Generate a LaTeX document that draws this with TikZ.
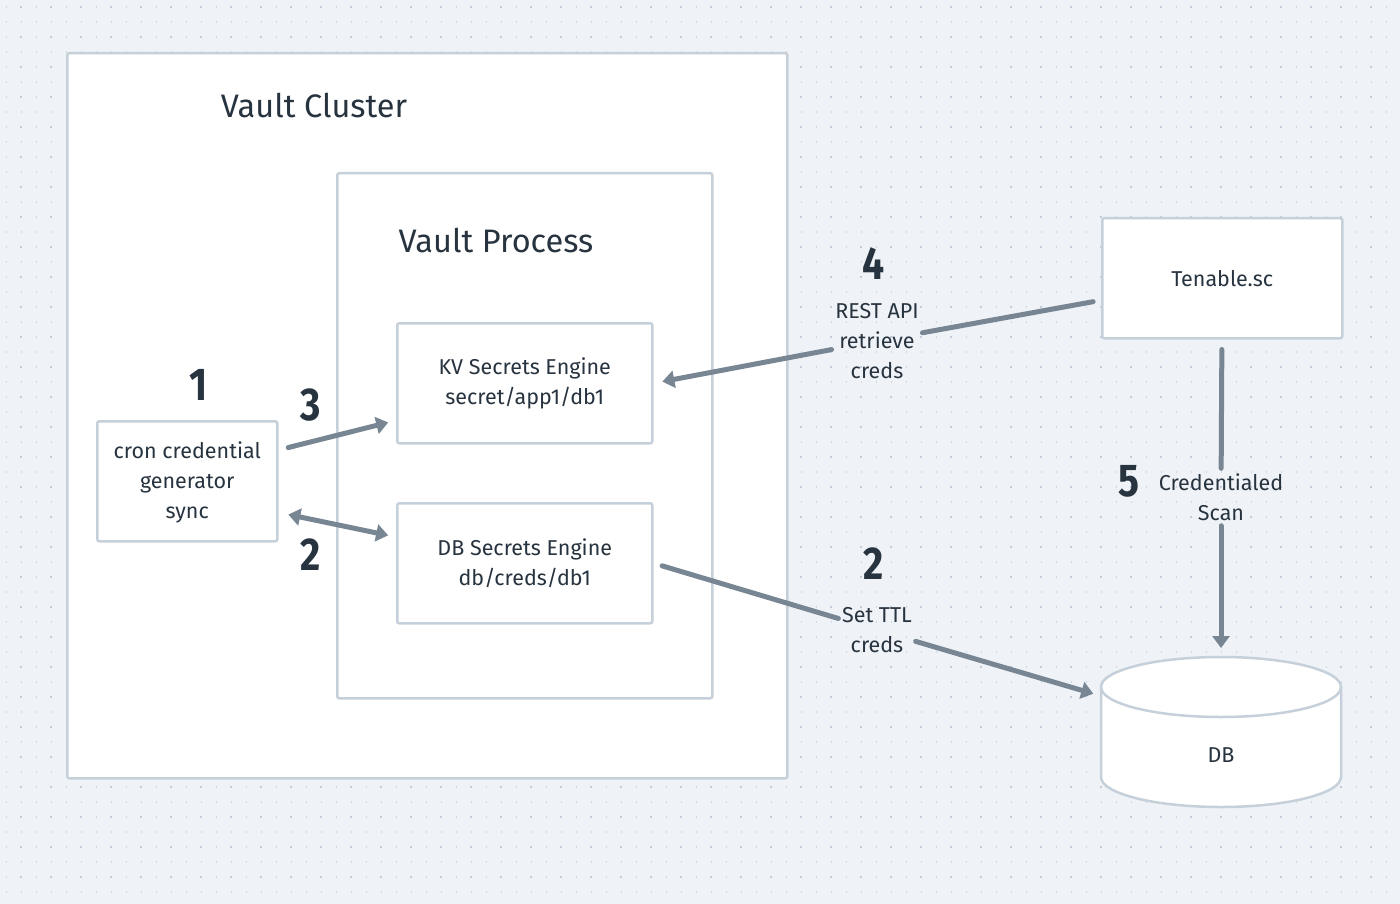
\documentclass[tikz,border=0pt]{standalone}
\usepackage{fontspec}
\setmainfont{Fira Sans}
\newfontfamily\numfont[FakeStretch=0.85]{Fira Sans}
\usetikzlibrary{arrows.meta}
\definecolor{bgc}{HTML}{EFF3F7}
\definecolor{dotc}{HTML}{D0D7E1}
\definecolor{dotd}{HTML}{C3CADB}
\definecolor{boxc}{HTML}{C6D0DA}
\definecolor{arrc}{HTML}{788694}
\definecolor{txtc}{HTML}{27333F}
\tikzset{
  box/.style={draw=boxc, line width=2.5pt, fill=white, rounded corners=2pt, inner sep=0pt, anchor=north west},
  txt/.style={text=txtc, font=\fontsize{21.5}{30}\selectfont, align=center},
  lab/.style={txt, inner sep=3.5pt},
  title/.style={text=txtc, font=\fontsize{32.5}{36}\selectfont},
  num/.style={text=txtc, font=\numfont\bfseries\fontsize{46}{46}\selectfont, inner sep=0pt},
  conn/.style={draw=arrc, line width=5pt, line cap=round},
  tip/.style={-{Triangle[length=12pt,width=17pt]}},
  tips/.style={{Triangle[length=12pt,width=17pt]}-{Triangle[length=12pt,width=17pt]}}
}
\begin{document}
\begin{tikzpicture}[x=1pt,y=-1pt]
\useasboundingbox (0,0) rectangle (1400,904);
\fill[bgc] (0,0) rectangle (1400,904);
% dot grid
\foreach \r in {0,...,59}{
  \draw[dotc, line width=1.6pt, dash pattern=on 1.6pt off 13.4pt, dash phase=9.3pt] (0,7+15*\r) -- (1400,7+15*\r);
}
\foreach \r in {0,...,29}{
  \draw[dotd, line width=2.4pt, dash pattern=on 2.4pt off 27.6pt, dash phase=10.2pt] (0,7+30*\r) -- (1400,7+30*\r);
}
% containers
\node[box, minimum width=720pt, minimum height=725pt] (cluster) at (66,52) {};
\node[title] (tcluster) at (314,106) {Vault Cluster};
\node[box, minimum width=375pt, minimum height=525pt] (process) at (336,172) {};
\node[title] (tprocess) at (496,241) {Vault Process};
% engines
\node[box, minimum width=255pt, minimum height=120pt] (kv) at (396,322) {};
\node[txt] (kvt) at (kv.center) {KV Secrets Engine\\secret/app1/db1};
\node[box, minimum width=255pt, minimum height=120pt] (dbe) at (396,502) {};
\node[txt] (dbet) at (dbe.center) {DB Secrets Engine\\db/creds/db1};
% cron
\node[box, minimum width=180pt, minimum height=120pt] (cron) at (96,420) {};
\node[txt] (cront) at ([yshift=-1pt]cron.center) {cron credential\\generator\\sync};
% tenable
\node[box, minimum width=240pt, minimum height=120pt] (ten) at (1101,217) {};
\node[txt] (tent) at (ten.center) {Tenable.sc};
% DB cylinder
\filldraw[draw=boxc, fill=white, line width=2.5pt]
  (1101,687) -- (1101,777) arc[start angle=180, end angle=360, x radius=120pt, y radius=30pt]
  -- (1341,687) arc[start angle=0, end angle=180, x radius=120pt, y radius=30pt] -- cycle;
\draw[boxc, line width=2.5pt] (1101,687) arc[start angle=180, end angle=360, x radius=120pt, y radius=30pt];
\node[minimum width=240pt, minimum height=150pt, inner sep=0pt] (db) at (1221,732) {};
\node[txt] (dbt) at (1221,755) {DB};
\coordinate (dbin) at (1101,696);
\coordinate (dbtop) at (1221,657);
% numbers
\node[num] (n1) at (199,385) {1};
\node[num] (n3) at (311,405) {3};
\node[num] (n2a) at (311,555) {2};
\node[num] (n4) at (874,264) {4};
\node[num] (n2b) at (874,564) {2};
\node[num] (n5) at (1129,481) {5};
% edge labels
\node[lab] (l4) at (877,341) {REST API\\retrieve\\creds};
\node[lab] (l2) at (877,630) {Set TTL\\creds};
\node[lab, inner sep=5pt] (l5) at (1221,497) {Credentialed\\Scan};
% connectors
\draw[conn, tip, shorten <=10pt, shorten >=8pt] ([yshift=-30pt]cron.north east) -- ([yshift=24pt]kv.south west);
\draw[conn, tips, shorten <=10pt, shorten >=8pt] ([yshift=30pt]cron.south east) -- ([yshift=-35pt]dbe.north west);
\draw[conn, shorten <=8pt] (ten) -- (l4);
\draw[conn, tip, shorten >=9pt] (l4) -- (kv.east);
\draw[conn, shorten <=9pt] (dbe.east) -- (l2);
\draw[conn, tip, shorten >=8pt] (l2) -- (dbin);
\draw[conn, shorten <=10pt] (ten) -- (l5);
\draw[conn, tip, shorten >=9pt] (l5) -- (dbtop);
\end{tikzpicture}
\end{document}
